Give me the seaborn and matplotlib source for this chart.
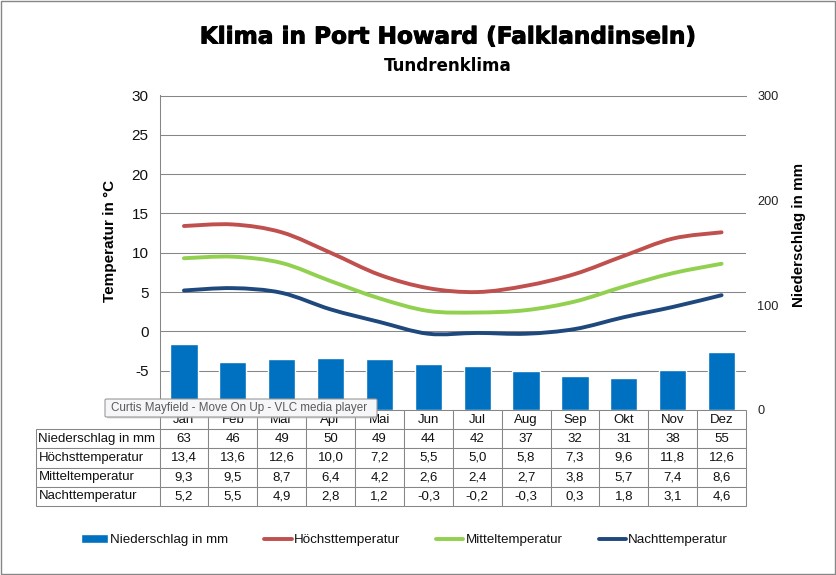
"""Klimadiagramm Port Howard: bars + smoothed lines + data table."""
import matplotlib
matplotlib.use("Agg")
import matplotlib.patheffects as pe
import matplotlib.pyplot as plt
import pandas as pd
import seaborn as sns
from matplotlib.patches import FancyBboxPatch, PathPatch, Rectangle
from matplotlib.path import Path

months = ["Jan", "Feb", "Mar", "Apr", "Mai", "Jun", "Jul", "Aug", "Sep", "Okt", "Nov", "Dez"]
niederschlag = [63, 46, 49, 50, 49, 44, 42, 37, 32, 31, 38, 55]
hoechst = [13.4, 13.6, 12.6, 10.0, 7.2, 5.5, 5.0, 5.8, 7.3, 9.6, 11.8, 12.6]
mittel = [9.3, 9.5, 8.7, 6.4, 4.2, 2.6, 2.4, 2.7, 3.8, 5.7, 7.4, 8.6]
nacht = [5.2, 5.5, 4.9, 2.8, 1.2, -0.3, -0.2, -0.3, 0.3, 1.8, 3.1, 4.6]
temp_ticks = [-10, -5, 0, 5, 10, 15, 20, 25, 30]
rain_ticks = [0, 100, 200, 300]

BLUE = "#0070C0"
GRAY = "#868686"
W, H = 836, 575


def fx(px):
    return px / W


def fy(px):
    return 1 - px / H


def smooth_path(xy):
    # same look as Excel's "smoothed line": Bezier segments through the data points
    verts = [tuple(xy[0])]
    codes = [Path.MOVETO]
    for i in range(len(xy) - 1):
        p0 = xy[max(i - 1, 0)]
        p1 = xy[i]
        p2 = xy[i + 1]
        p3 = xy[min(i + 2, len(xy) - 1)]
        verts += [tuple(p1 + (p2 - p0) / 6), tuple(p2 - (p3 - p1) / 6), tuple(p2)]
        codes += [Path.CURVE4] * 3
    return Path(verts, codes)


sns.set_theme(style="white")
plt.rcParams["font.family"] = ["Liberation Sans", "DejaVu Sans"]

fig = plt.figure(figsize=(W / 100, H / 100), dpi=100, facecolor="white")
ax = fig.add_axes([fx(159.5), fy(410), fx(586.5), 314.5 / H])
ax2 = ax.twinx()
# bars sit in front of the temperature grid
ax.set_zorder(1)
ax2.set_zorder(2)
ax2.patch.set_visible(False)

bars = pd.DataFrame({"Monat": months, "mm": niederschlag})
sns.barplot(data=bars, x="Monat", y="mm", color=BLUE, width=0.56, saturation=1,
            label="Niederschlag in mm", legend=False, ax=ax2)

temps = pd.DataFrame({"Monat": months * 3,
                      "Temperatur": hoechst + mittel + nacht,
                      "Reihe": ["Höchsttemperatur"] * 12 + ["Mitteltemperatur"] * 12 + ["Nachttemperatur"] * 12})
palette = {"Höchsttemperatur": "#C0504D", "Mitteltemperatur": "#92D050", "Nachttemperatur": "#1F497D"}
sns.lineplot(data=temps, x="Monat", y="Temperatur", hue="Reihe", palette=palette, sort=False,
             errorbar=None, lw=2.8, ax=ax)
line_handles, line_labels = ax.get_legend_handles_labels()
for h in line_handles:
    h.set_solid_capstyle("round")
ax.get_legend().remove()

for line in list(ax.get_lines()):
    xy = line.get_xydata()
    if len(xy) != 12:
        continue
    ax.add_patch(PathPatch(smooth_path(xy), fill=False, edgecolor=line.get_color(),
                           lw=2.8, capstyle="round", zorder=3))
    line.remove()

ax.set_xlim(-0.5, 11.5)
ax.set_ylim(-10, 30)
ax.set_yticks(temp_ticks)
ax.set_yticklabels(["", "-5", "0", "5", "10", "15", "20", "25", "30"])
ax.tick_params(axis="y", length=0, pad=8, labelsize=11, labelcolor="#111111")
ax.tick_params(axis="x", length=0, labelbottom=False)
ax.set_xlabel("")
ax.set_ylabel("")
ax.grid(axis="y", color=GRAY, lw=0.75)
ax.grid(axis="x", visible=False)
ax.set_axisbelow(True)
for name, spine in ax.spines.items():
    spine.set_visible(name in ("left", "top"))
    spine.set_color(GRAY)
    spine.set_linewidth(0.75)

ax2.set_ylim(0, 300)
ax2.set_yticks(rain_ticks)
ax2.tick_params(axis="y", length=0, pad=8, labelsize=9.2, labelcolor="#222222")
ax2.tick_params(axis="x", length=0, labelbottom=False)
ax2.set_xlabel("")
ax2.set_ylabel("")
ax2.grid(False)
for spine in ax2.spines.values():
    spine.set_visible(False)


def de(v):
    return f"{v:.1f}".replace(".", ",")


cells = [[""] + months,
         ["Niederschlag in mm"] + [str(v) for v in niederschlag],
         ["Höchsttemperatur"] + [de(v) for v in hoechst],
         ["Mitteltemperatur"] + [de(v) for v in mittel],
         ["Nachttemperatur"] + [de(v) for v in nacht]]
tw = 746 - 36
table = ax.table(cellText=cells, cellLoc="center", colWidths=[123.5 / tw] + [586.5 / 12 / tw] * 12,
                 bbox=[(36 - 159.5) / 586.5, -96 / 314.5, tw / 586.5, 96 / 314.5])
table.auto_set_font_size(False)
table.set_fontsize(9.5)
for (row, col), cell in table.get_celld().items():
    cell.set_edgecolor(GRAY)
    cell.set_linewidth(0.75)
    cell.PAD = 0.02
    cell.get_text().set_color("#111111")
    if col == 0:
        cell.get_text().set_ha("left")
    if row == 0 and col == 0:
        cell.set_edgecolor("none")
        cell.set_facecolor("none")

fig.text(fx(448), fy(37), "Klima in Port Howard (Falklandinseln)", ha="center", va="center",
         family="DejaVu Sans", weight="bold", size=16.7, color="black",
         path_effects=[pe.withStroke(linewidth=0.7, foreground="black")])
fig.text(fx(448), fy(66), "Tundrenklima", ha="center", va="center",
         family="DejaVu Sans", weight="bold", size=12.1, color="black")
fig.text(fx(110), fy(241), "Temperatur in °C", rotation=90, ha="center", va="center",
         weight="bold", size=11, color="black")
fig.text(fx(799), fy(235), "Niederschlag in mm", rotation=90, ha="center", va="center",
         weight="bold", size=10.9, color="black")

bar_handles, bar_labels = ax2.get_legend_handles_labels()
fig.legend(bar_handles + line_handles, bar_labels + line_labels, ncol=4, frameon=False,
           loc="center left", bbox_to_anchor=(fx(69), fy(540)), fontsize=9.6,
           handlelength=2.05, handletextpad=0.15, columnspacing=2.7, labelcolor="#111111")

# window tooltip that sits on top of the chart in the screenshot
fig.add_artist(FancyBboxPatch((fx(107), fy(418.5)), fx(270), 17.5 / H, boxstyle="round,pad=0,rounding_size=0.002",
                              transform=fig.transFigure, facecolor="#BDBDBD", edgecolor="none", alpha=0.6, zorder=9))
fig.add_artist(FancyBboxPatch((fx(105), fy(417)), fx(272), 18 / H, boxstyle="round,pad=0,rounding_size=0.002",
                              transform=fig.transFigure, facecolor="#F6F6F9", edgecolor="#9A9A9A", lw=0.8, zorder=10))
fig.text(fx(110.5), fy(408.5), "Curtis Mayfield - Move On Up - VLC media player", ha="left", va="center",
         size=8.4, color="#5A5A5A", zorder=11)

fig.add_artist(Rectangle((0.0006, 0.001), 0.9988, 0.998, transform=fig.transFigure, fill=False,
                         edgecolor=GRAY, lw=1, zorder=12))

fig.savefig("out.png", dpi=100)
